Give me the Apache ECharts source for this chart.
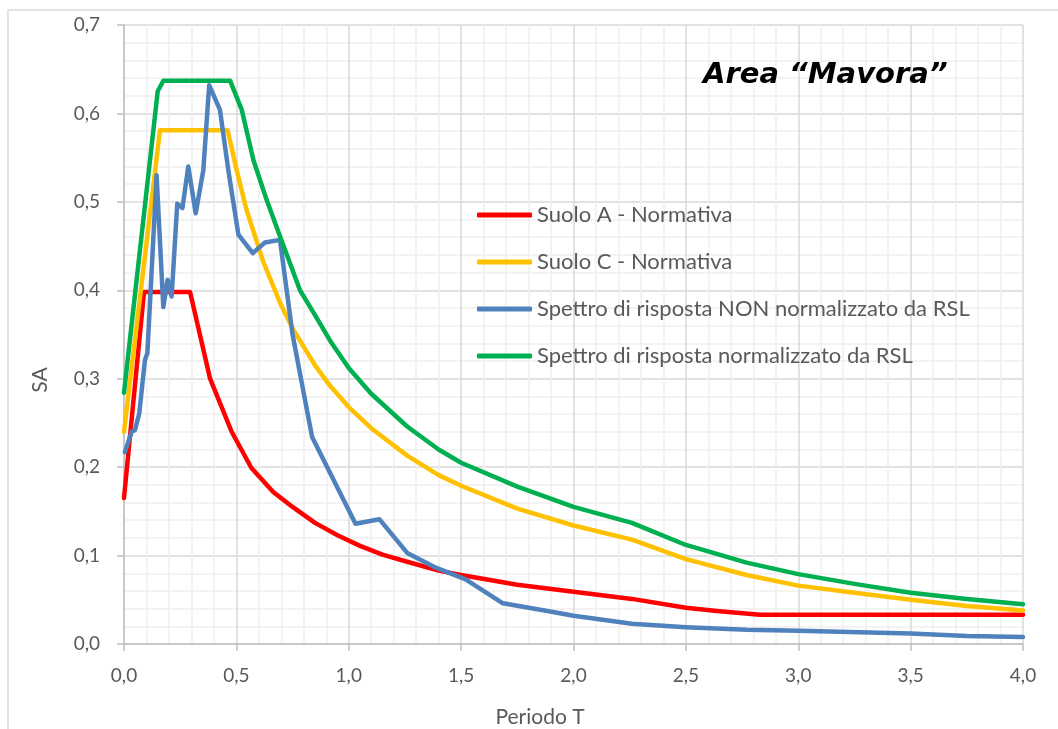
<!DOCTYPE html>
<html><head><meta charset="utf-8">
<script src="https://cdn.jsdelivr.net/npm/echarts@6/dist/echarts.min.js"></script>
<style>html,body{margin:0;padding:0;background:#fff}#c{width:1058px;height:729px}</style>
</head><body><div id="c"></div>
<script>
// ---- Data ----
const seriesNames = ['Suolo A - Normativa', 'Suolo C - Normativa', 'Spettro di risposta NON normalizzato da RSL', 'Spettro di risposta normalizzato da RSL'];
const seriesColors = ['#ff0000', '#ffc000', '#4f81bd', '#00b050'];

const tSuoloA  = [0, 0.089, 0.294, 0.383, 0.479, 0.567, 0.664, 0.75, 0.85, 0.95, 1.05, 1.15, 1.26, 1.4, 1.5, 1.75, 2.0, 2.26, 2.5, 2.65, 2.83, 3.0, 3.5, 4.0];
const saSuoloA = [0.165, 0.398, 0.398, 0.300, 0.240, 0.199, 0.172, 0.155, 0.137, 0.123, 0.111, 0.101, 0.093, 0.083, 0.078, 0.067, 0.059, 0.051, 0.041, 0.037, 0.033, 0.033, 0.033, 0.033];

const tSuoloC  = [0, 0.16, 0.461, 0.501, 0.545, 0.62, 0.694, 0.75, 0.85, 0.917, 1.0, 1.1, 1.26, 1.4, 1.5, 1.75, 2.0, 2.26, 2.5, 2.77, 3.0, 3.25, 3.5, 3.75, 4.0];
const saSuoloC = [0.240, 0.581, 0.581, 0.536, 0.491, 0.432, 0.386, 0.357, 0.315, 0.292, 0.268, 0.244, 0.213, 0.191, 0.179, 0.153, 0.134, 0.118, 0.096, 0.078, 0.066, 0.058, 0.050, 0.043, 0.038];

const tNonNorm  = [0.004, 0.034, 0.049, 0.068, 0.093, 0.104, 0.145, 0.175, 0.194, 0.212, 0.237, 0.26, 0.286, 0.319, 0.353, 0.379, 0.427, 0.464, 0.509, 0.573, 0.627, 0.694, 0.75, 0.837, 1.03, 1.137, 1.26, 1.39, 1.52, 1.686, 1.89, 2.0, 2.26, 2.5, 2.77, 3.0, 3.5, 3.75, 4.0];
const saNonNorm = [0.217, 0.240, 0.242, 0.261, 0.321, 0.329, 0.530, 0.381, 0.412, 0.393, 0.498, 0.493, 0.540, 0.487, 0.536, 0.632, 0.604, 0.536, 0.463, 0.442, 0.454, 0.457, 0.350, 0.234, 0.136, 0.141, 0.103, 0.086, 0.073, 0.046, 0.037, 0.032, 0.023, 0.019, 0.016, 0.015, 0.012, 0.009, 0.008];

const tNorm  = [0, 0.15, 0.175, 0.472, 0.524, 0.576, 0.635, 0.694, 0.783, 0.85, 0.917, 1.0, 1.1, 1.26, 1.4, 1.5, 1.75, 2.0, 2.26, 2.5, 2.77, 3.0, 3.25, 3.5, 3.75, 4.0];
const saNorm = [0.284, 0.625, 0.637, 0.637, 0.604, 0.547, 0.502, 0.461, 0.400, 0.372, 0.343, 0.312, 0.283, 0.246, 0.220, 0.205, 0.178, 0.155, 0.137, 0.112, 0.092, 0.079, 0.068, 0.058, 0.051, 0.045];

const titleText = 'Area “Mavora”';
const xAxisName = 'Periodo T';
const yAxisName = 'SA';

// ---- Chart ----
const pairs = (t, v) => t.map((x, i) => [x, v[i]]);
const seriesData = [pairs(tSuoloA, saSuoloA), pairs(tSuoloC, saSuoloC), pairs(tNonNorm, saNonNorm), pairs(tNorm, saNorm)];
const fmt = v => v.toFixed(1).replace('.', ',');
const labelFont = 'Lato, "Open Sans", sans-serif';

const chart = echarts.init(document.getElementById('c'));
chart.setOption({
  animation: false,
  backgroundColor: '#ffffff',
  title: {
    text: titleText, left: 703, top: 61, padding: 0,
    textStyle: { fontFamily: '"DejaVu Sans"', fontStyle: 'italic', fontWeight: 'bold', fontSize: 29, color: '#000000' }
  },
  legend: {
    orient: 'vertical', left: 477, top: 204, padding: 0,
    itemWidth: 55, itemHeight: 5, itemGap: 25, icon: 'roundRect',
    textStyle: { fontFamily: labelFont, fontSize: 22, color: '#595959' },
    data: seriesNames
  },
  grid: { left: 124, right: 35, top: 25, bottom: 85 },
  xAxis: {
    type: 'value', min: 0, max: 4, interval: 0.5,
    axisLine: { show: true, lineStyle: { color: '#bfbfbf', width: 1.5 } },
    axisTick: { show: true, length: 7, lineStyle: { color: '#bfbfbf', width: 1.5 } },
    axisLabel: { margin: 22, fontFamily: labelFont, fontSize: 19, color: '#595959', formatter: fmt },
    splitLine: { show: true, lineStyle: { color: '#d9d9d9', width: 1.5 } },
    minorTick: { show: false, splitNumber: 5 },
    minorSplitLine: { show: true, lineStyle: { color: '#f0f0f0', width: 1.5 } }
  },
  yAxis: {
    type: 'value', min: 0, max: 0.7, interval: 0.1,
    axisLine: { show: true, lineStyle: { color: '#bfbfbf', width: 1.5 } },
    axisTick: { show: true, length: 7, lineStyle: { color: '#bfbfbf', width: 1.5 } },
    axisLabel: { margin: 24, fontFamily: labelFont, fontSize: 19, color: '#595959', formatter: fmt },
    splitLine: { show: true, lineStyle: { color: '#d9d9d9', width: 1.5 } },
    minorTick: { show: false, splitNumber: 5 },
    minorSplitLine: { show: true, lineStyle: { color: '#f0f0f0', width: 1.5 } }
  },
  graphic: [
    { type: 'rect', silent: true, z: -1, shape: { x: 8, y: 10, width: 1200, height: 900 }, style: { fill: 'none', stroke: '#d9d9d9', lineWidth: 1.5 } },
    { type: 'text', x: 40, y: 380, rotation: Math.PI / 2, style: { text: yAxisName, fontFamily: labelFont, fontSize: 21, fill: '#595959', align: 'center', verticalAlign: 'middle' } },
    { type: 'text', x: 540, y: 717, style: { text: xAxisName, fontFamily: labelFont, fontSize: 21, fill: '#595959', align: 'center', verticalAlign: 'middle' } }
  ],
  series: seriesNames.map((n, i) => ({
    name: n, type: 'line', data: seriesData[i], symbol: 'none', showSymbol: false, smooth: false,
    color: seriesColors[i],
    lineStyle: { color: seriesColors[i], width: 4.5, cap: 'round', join: 'round' },
    z: 2 + i
  }))
});
</script>
</body></html>
